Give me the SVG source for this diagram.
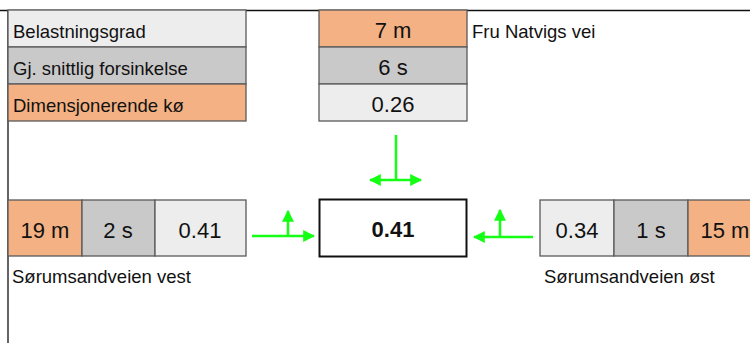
<svg xmlns="http://www.w3.org/2000/svg" width="750" height="343" viewBox="0 0 750 343">
  <style>
    text { font-family: "Liberation Sans", Arial, sans-serif; fill: #111; }
    .lbl { font-size: 18.5px; }
    .val { font-size: 22px; text-anchor: middle; }
    .light { fill: #ededed; stroke: #5a5a5a; stroke-width: 1.3; }
    .mid { fill: #c9c9c9; stroke: #5a5a5a; stroke-width: 1.3; }
    .orange { fill: #f4b183; stroke: #5a5a5a; stroke-width: 1.3; }
    .flow { stroke: #14ff14; stroke-width: 2.5; fill: none; }
  </style>
  <defs>
    <marker id="head" viewBox="0 0 10 10" refX="9" refY="5" markerWidth="4.8" markerHeight="5.2" markerUnits="strokeWidth" orient="auto-start-reverse">
      <path d="M0,0 L10,5 L0,10 Z" fill="#14ff14"/>
    </marker>
  </defs>

  <rect width="750" height="343" fill="#ffffff"/>
  <!-- frame lines -->
  <line x1="0" y1="10.5" x2="750" y2="10.5" stroke="#111" stroke-width="1.5"/>
  <line x1="8" y1="10" x2="8" y2="343" stroke="#111" stroke-width="1.3"/>

  <!-- legend -->
  <g id="legend">
    <rect class="light" x="8" y="10" width="238" height="37"/>
    <rect class="mid" x="8" y="47" width="238" height="37"/>
    <rect class="orange" x="8" y="84" width="238" height="37"/>
    <text class="lbl" x="13" y="38">Belastningsgrad</text>
    <text class="lbl" x="13" y="75">Gj. snittlig forsinkelse</text>
    <text class="lbl" x="13" y="112">Dimensjonerende kø</text>
  </g>

  <!-- north approach -->
  <g id="north">
    <rect class="orange" x="319" y="10" width="148" height="37"/>
    <rect class="mid" x="319" y="47" width="148" height="37"/>
    <rect class="light" x="319" y="84" width="148" height="37"/>
    <text class="val" x="393" y="38">7 m</text>
    <text class="val" x="393" y="75">6 s</text>
    <text class="val" x="393" y="112">0.26</text>
    <text class="lbl" x="472" y="38">Fru Natvigs vei</text>
  </g>

  <!-- west approach -->
  <g id="west">
    <rect class="orange" x="8" y="200" width="74" height="56"/>
    <rect class="mid" x="82" y="200" width="73" height="56"/>
    <rect class="light" x="155" y="200" width="91" height="56"/>
    <text class="val" x="45" y="238">19 m</text>
    <text class="val" x="118" y="238">2 s</text>
    <text class="val" x="200" y="238">0.41</text>
    <text class="lbl" x="12" y="283">Sørumsandveien vest</text>
  </g>

  <!-- intersection -->
  <g id="center">
    <rect x="319.5" y="199.5" width="147" height="57" fill="#ffffff" stroke="#111" stroke-width="2"/>
    <text class="val" x="393" y="237" font-weight="bold" font-size="23px">0.41</text>
  </g>

  <!-- east approach -->
  <g id="east">
    <rect class="light" x="540" y="200" width="74" height="56"/>
    <rect class="mid" x="614" y="200" width="74" height="56"/>
    <rect class="orange" x="688" y="200" width="75" height="56"/>
    <text class="val" x="577" y="238">0.34</text>
    <text class="val" x="651" y="238">1 s</text>
    <text class="val" x="725" y="238">15 m</text>
    <text class="lbl" x="544" y="283">Sørumsandveien øst</text>
  </g>

  <!-- turning movements -->
  <g id="connectors">
    <line class="flow" x1="396" y1="135" x2="396" y2="180"/>
    <line class="flow" x1="370" y1="180" x2="421" y2="180" marker-start="url(#head)" marker-end="url(#head)"/>
    <line class="flow" x1="252" y1="236" x2="314" y2="236" marker-end="url(#head)"/>
    <line class="flow" x1="288" y1="236" x2="288" y2="211" marker-end="url(#head)"/>
    <line class="flow" x1="533" y1="237" x2="474" y2="237" marker-end="url(#head)"/>
    <line class="flow" x1="500" y1="237" x2="500" y2="210" marker-end="url(#head)"/>
  </g>
</svg>
